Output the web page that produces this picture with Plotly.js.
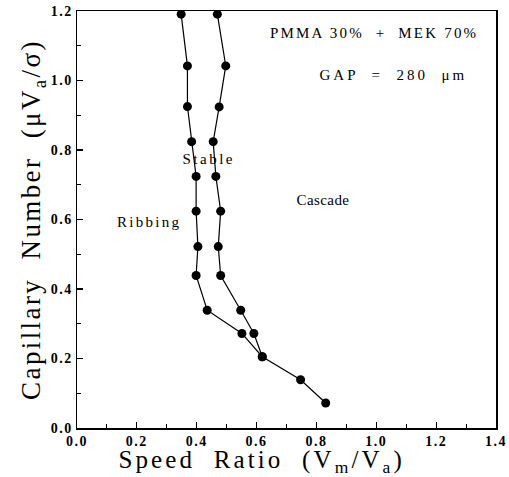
<!DOCTYPE html>
<html>
<head>
<meta charset="utf-8">
<script src="https://cdn.plot.ly/plotly-3.0.1.min.js"></script>
<style>
html,body{margin:0;padding:0;background:#fff;}
#plot{width:509px;height:477px;}
.ytitle {letter-spacing: 2.4px;}
.annotation[data-index="0"] text {letter-spacing: 2.2px;}
.annotation[data-index="1"] text {letter-spacing: 3px;}
.annotation[data-index="2"] text {letter-spacing: 0.4px;}
.annotation[data-index="3"] text {letter-spacing: 2.5px;}
.annotation[data-index="4"] text {letter-spacing: 2.3px;}
.annotation[data-index="5"] text {letter-spacing: 3.1px;}
.xtick text, .ytick text {letter-spacing: 1.5px;}
</style>
</head>
<body>
<div id="plot"></div>
<script>
// Left branch (Ribbing / Stable boundary)
const leftX = [0.348, 0.369, 0.369, 0.383, 0.398, 0.398, 0.404, 0.398, 0.435, 0.551];
const leftY = [1.191, 1.042, 0.925, 0.824, 0.724, 0.624, 0.522, 0.439, 0.339, 0.272];
// Right branch (Stable / Cascade boundary)
const rightX = [0.469, 0.497, 0.475, 0.455, 0.464, 0.480, 0.472, 0.480, 0.547, 0.591];
const rightY = [1.191, 1.042, 0.924, 0.824, 0.724, 0.624, 0.522, 0.439, 0.339, 0.272];
// Shared lower tail
const tailX = [0.619, 0.747, 0.831];
const tailY = [0.205, 0.139, 0.072];

const labels = ["PMMA 30%  +  MEK 70%", "GAP  =  280  μm", "Cascade", "Stable", "Ribbing"];
const labelX = [0.993, 1.059, 0.823, 0.441, 0.243];
const labelY = [1.136, 1.015, 0.655, 0.773, 0.592];

const xTitle = 'Speed  Ratio  (V<sub>m</sub>/V<sub>a</sub>)';
const yTitle = 'Capillary  Number  (μV<sub>a</sub>/σ)';

const mk = {size: 9, color: '#000'};
const ln = {color: '#000', width: 1.2};
const traces = [
  {x: leftX.concat(tailX), y: leftY.concat(tailY), mode: 'lines+markers', marker: mk, line: ln, hoverinfo: 'none'},
  {x: rightX.concat([tailX[0]]), y: rightY.concat([tailY[0]]), mode: 'lines+markers', marker: mk, line: ln, hoverinfo: 'none'}
];

const serif = 'Liberation Serif, Times New Roman, serif';
const tickFont = {family: serif, size: 14, color: '#000', weight: 700};

const annots = labels.map((t, i) => ({
  text: t, x: labelX[i], y: labelY[i], xref: 'x', yref: 'y', showarrow: false,
  font: {family: serif, size: 15, color: '#000'}
}));
annots.push({
  text: xTitle, x: 0.4415, y: -0.0815, xref: 'paper', yref: 'paper', showarrow: false,
  xanchor: 'center', yanchor: 'middle', borderpad: 0,
  font: {family: serif, size: 25, color: '#000'}
});

const layout = {
  width: 509, height: 477,
  margin: {l: 77, r: 13, t: 11, b: 49},
  paper_bgcolor: '#fff', plot_bgcolor: '#fff',
  showlegend: false,
  xaxis: {
    range: [0, 1.4], dtick: 0.2, tickformat: '.1f',
    showgrid: false, zeroline: false,
    showline: true, mirror: true, linecolor: '#000', linewidth: 1.5,
    ticks: 'inside', ticklen: 6, tickwidth: 1.2, tickcolor: '#000',
    minor: {dtick: 0.1, ticks: 'inside', ticklen: 4, tickcolor: '#000', tickwidth: 1},
    tickfont: tickFont
  },
  yaxis: {
    range: [0, 1.2], dtick: 0.2, tickformat: '.1f',
    showgrid: false, zeroline: false,
    showline: true, mirror: true, linecolor: '#000', linewidth: 1.5,
    ticks: 'inside', ticklen: 6, tickwidth: 1.2, tickcolor: '#000',
    minor: {dtick: 0.1, ticks: 'inside', ticklen: 4, tickcolor: '#000', tickwidth: 1},
    tickfont: tickFont,
    title: {text: yTitle, font: {family: serif, size: 27, color: '#000'}, standoff: 2}
  },
  annotations: annots
};

Plotly.newPlot('plot', traces, layout, {staticPlot: true});
</script>
</body>
</html>
